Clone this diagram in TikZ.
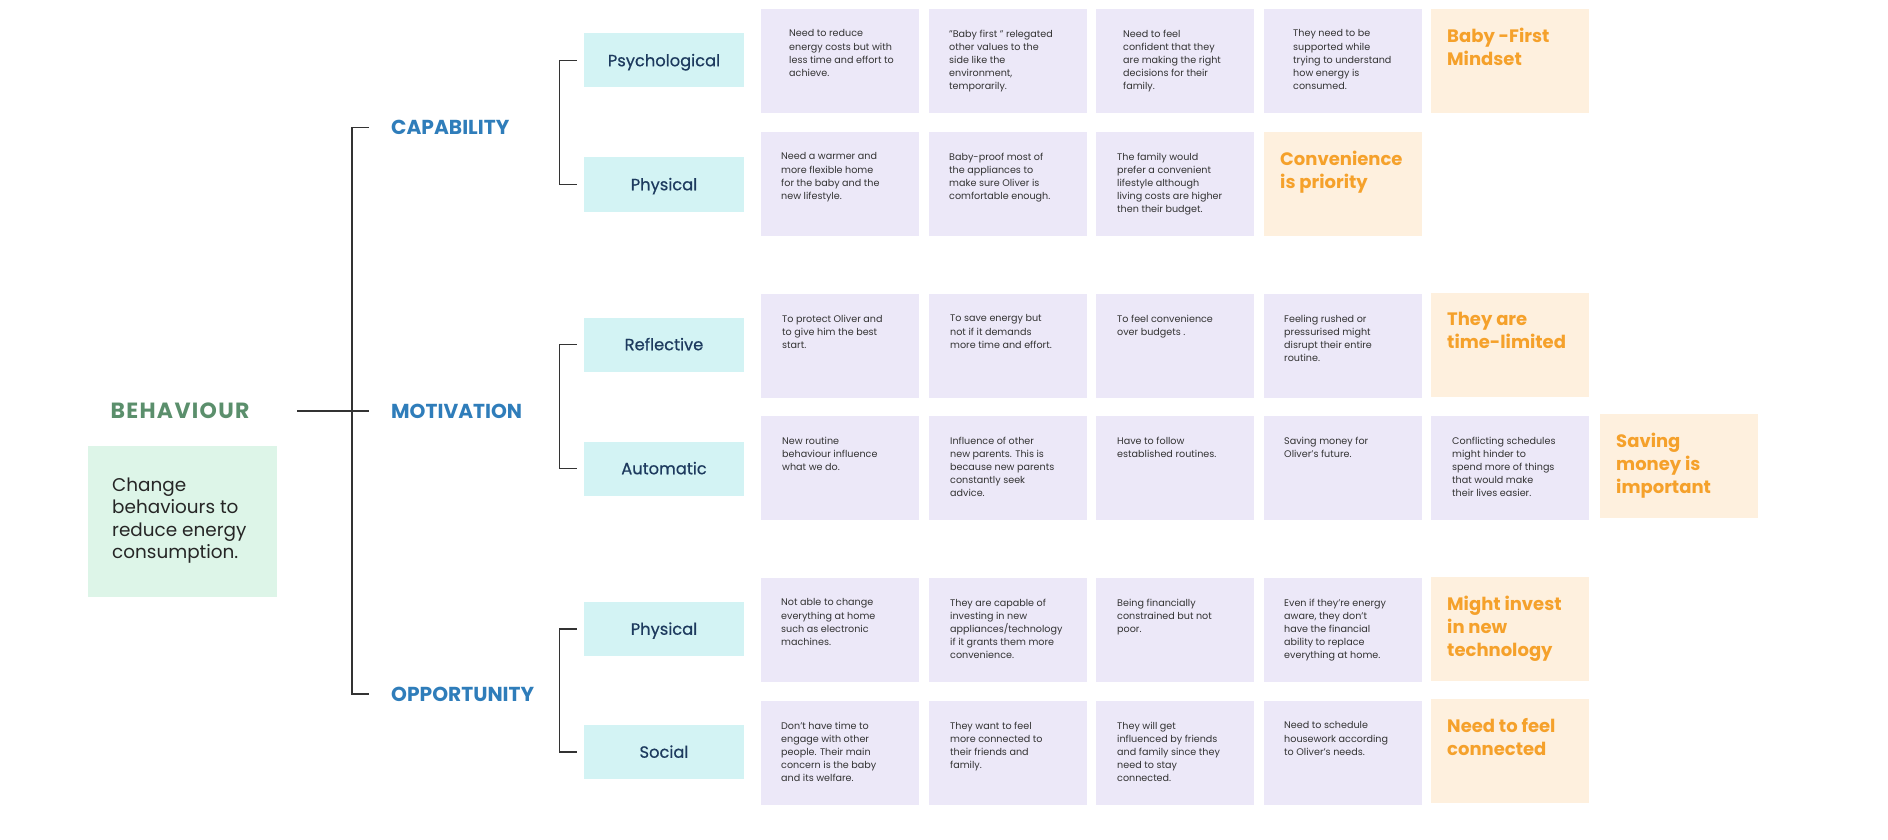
\documentclass[tikz,border=0pt]{standalone}
\usepackage{fontspec}
\setmainfont{Poppins}
\newfontfamily\labfont{Poppins}[FakeBold=0.5]
\usetikzlibrary{calc}
\definecolor{cardbg}{HTML}{ECE8F8}
\definecolor{orgbg}{HTML}{FEF0DE}
\definecolor{orgtx}{HTML}{F5A12B}
\definecolor{labbg}{HTML}{D3F3F4}
\definecolor{labtx}{HTML}{1D3A5E}
\definecolor{cattx}{HTML}{2F7DBA}
\definecolor{behtx}{HTML}{5B8F6C}
\definecolor{goalbg}{HTML}{DDF5E8}
\definecolor{linec}{HTML}{333333}
\definecolor{bodytx}{HTML}{333333}
\newcommand\pcard[5]{%
  \node[card] (#1) at (#2,#3) {};
  \node[ctext] (#1t) at ($(#1.north west)+(#4,20.5)$) {#5};}
\newcommand\ocard[4]{%
  \node[ocardst] (#1) at (#2,#3) {};
  \node[otext] (#1t) at ($(#1.north west)+(16,19)$) {#4};}
\begin{document}
\begin{tikzpicture}[x=1pt,y=-1pt,
  card/.style={fill=cardbg, draw=none, minimum width=158pt, minimum height=104pt, anchor=north west, inner sep=0pt, outer sep=0pt},
  ocardst/.style={card, fill=orgbg},
  ctext/.style={anchor=north west, inner sep=0pt, align=left, font=\fontsize{9.6}{13.2}\selectfont, text=bodytx},
  otext/.style={anchor=north west, inner sep=0pt, align=left, font=\fontsize{18}{23}\selectfont\bfseries, text=orgtx},
  labbox/.style={fill=labbg, minimum width=160pt, minimum height=54pt, inner sep=0pt, text height=11.5pt, text depth=0pt, font=\labfont\fontsize{16.3}{20}\selectfont, text=labtx},
  cat/.style={anchor=west, inner sep=0pt, text height=14pt, text depth=0pt, font=\fontsize{20.2}{24}\selectfont\bfseries, text=cattx},
  bline/.style={draw=linec, line width=1.3pt}
]
\useasboundingbox (0,0) rectangle (1888,840);

% goal
\node[fill=goalbg, minimum width=189pt, minimum height=151pt, anchor=north west, inner sep=0pt] (goal) at (88,446) {};
\node[anchor=north west, inner sep=0pt, align=left, font=\fontsize{18.4}{22.4}\selectfont, text=black!85] (goalt) at ($(goal.north west)+(24,31.5)$) {Change\\behaviours to\\reduce energy\\consumption.};
\node[cat, anchor=center, text=behtx, text height=15pt, font=\fontsize{22}{26}\selectfont\bfseries\addfontfeature{LetterSpace=6}] (beh) at (180,411) {BEHAVIOUR};

% categories
\node[cat] (cap) at (391,127.5) {CAPABILITY};
\node[cat] (mot) at (391,411) {MOTIVATION};
\node[cat] (opp) at (391,694) {OPPORTUNITY};

% labels
\node[labbox] (psy) at (664,60.5) {Psychological};
\node[labbox] (phya) at (664,184.5) {Physical};
\node[labbox] (ref) at (664,344.5) {Reflective};
\node[labbox] (aut) at (664,468.5) {Automatic};
\node[labbox] (phyb) at (664,629) {Physical};
\node[labbox] (soc) at (664,752) {Social};

% brackets
\draw[bline] ([xshift=-22pt]cap.west) -- ++(-17,0) |- ([xshift=-22pt]opp.west);
\draw[bline] (297,411) -- ([xshift=-22pt]mot.west);
\draw[bline] ([xshift=-7pt]psy.west) -- ++(-17,0) |- ([xshift=-7pt]phya.west);
\draw[bline] ([xshift=-7pt]ref.west) -- ++(-17,0) |- ([xshift=-7pt]aut.west);
\draw[bline] ([xshift=-7pt]phyb.west) -- ++(-17,0) |- ([xshift=-7pt]soc.west);

% row 1
\pcard{ra1}{761}{9}{28}{Need to reduce\\energy costs but with\\less time and effort to\\achieve.}
\pcard{ra2}{929}{9}{20}{"Baby first " relegated\\other values to the\\side like the\\environment,\\temporarily.}
\pcard{ra3}{1096}{9}{27}{Need to feel\\confident that they\\are making the right\\decisions for their\\family.}
\pcard{ra4}{1264}{9}{29}{They need to be\\supported while\\trying to understand\\how energy is\\consumed.}
\ocard{ra5}{1431}{9}{Baby -First\\Mindset}

% row 2
\pcard{rb1}{761}{132}{20}{Need a warmer and\\more flexible home\\for the baby and the\\new lifestyle.}
\pcard{rb2}{929}{132}{20}{Baby-proof most of\\the appliances to\\make sure Oliver is\\comfortable enough.}
\pcard{rb3}{1096}{132}{21}{The family would\\prefer a convenient\\lifestyle although\\living costs are higher\\then their budget.}
\ocard{rb4}{1264}{132}{Convenience\\is priority}

% row 3
\pcard{rc1}{761}{294}{21}{To protect Oliver and\\to give him the best\\start.}
\pcard{rc2}{929}{294}{21}{To save energy but\\not if it demands\\more time and effort.}
\pcard{rc3}{1096}{294}{21}{To feel convenience\\over budgets .}
\pcard{rc4}{1264}{294}{20}{Feeling rushed or\\pressurised might\\disrupt their entire\\routine.}
\ocard{rc5}{1431}{293}{They are\\time-limited}

% row 4
\pcard{rd1}{761}{416}{21}{New routine\\behaviour influence\\what we do.}
\pcard{rd2}{929}{416}{21}{Influence of other\\new parents. This is\\because new parents\\constantly seek\\advice.}
\pcard{rd3}{1096}{416}{21}{Have to follow\\established routines.}
\pcard{rd4}{1264}{416}{20}{Saving money for\\Oliver's future.}
\pcard{rd5}{1431}{416}{21}{Conflicting schedules\\might hinder to\\spend more of things\\that would make\\their lives easier.}
\ocard{rd6}{1600}{414}{Saving\\money is\\important}

% row 5
\pcard{re1}{761}{578}{20}{Not able to change\\everything at home\\such as electronic\\machines.}
\pcard{re2}{929}{578}{21}{They are capable of\\investing in new\\appliances/technology\\if it grants them more\\convenience.}
\pcard{re3}{1096}{578}{21}{Being financially\\constrained but not\\poor.}
\pcard{re4}{1264}{578}{20}{Even if they're energy\\aware, they don't\\have the financial\\ability to replace\\everything at home.}
\ocard{re5}{1431}{577}{Might invest\\in new\\technology}

% row 6
\pcard{rf1}{761}{701}{20}{Don't have time to\\engage with other\\people. Their main\\concern is the baby\\and its welfare.}
\pcard{rf2}{929}{701}{21}{They want to feel\\more connected to\\their friends and\\family.}
\pcard{rf3}{1096}{701}{21}{They will get\\influenced by friends\\and family since they\\need to stay\\connected.}
\pcard{rf4}{1264}{701}{20}{Need to schedule\\housework according\\to Oliver's needs.}
\ocard{rf5}{1431}{699}{Need to feel\\connected}
\end{tikzpicture}
\end{document}
